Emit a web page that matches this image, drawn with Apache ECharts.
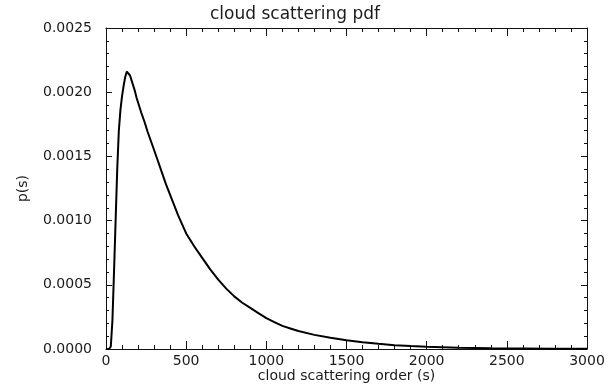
<!DOCTYPE html>
<html>
<head>
<meta charset="utf-8">
<script src="https://cdn.jsdelivr.net/npm/echarts@6/dist/echarts.min.js"></script>
<style>html,body{margin:0;padding:0;background:#fff}#c{width:610px;height:384px}</style>
</head>
<body>
<div id="c"></div>
<script>
// scattering order (s)
var orders = [0, 10, 20, 30, 40, 50, 60, 70, 80, 90, 100, 110, 120, 130, 140, 150, 160, 170, 180, 190, 200,
  220, 240, 260, 280, 300, 325, 350, 375, 400, 425, 450, 475, 500, 550, 600, 650, 700, 750, 800, 850, 900, 950,
  1000, 1050, 1100, 1150, 1200, 1300, 1400, 1500, 1600, 1700, 1800, 1900, 2000, 2200, 2400, 2600, 2800, 3000];
// probability p(s)
var probs = [0, 0, 0, 0.00002, 0.00022, 0.0006, 0.001, 0.0014, 0.0017, 0.00186, 0.00197, 0.00205, 0.00212, 0.00216, 0.00216, 0.00213, 0.00209, 0.00205, 0.00201, 0.00196, 0.00192,
  0.00184, 0.00177, 0.00169, 0.00162, 0.00155, 0.00146, 0.00137, 0.00128, 0.0012, 0.00112, 0.00104, 0.00097, 0.0009, 0.0008, 0.00071, 0.00062, 0.00054, 0.00047, 0.00041, 0.00036, 0.00032, 0.00028,
  0.00024, 0.00021, 0.00018, 0.00016, 0.00014, 0.00011, 0.000088, 0.000068, 0.000052, 0.00004, 0.00003, 0.000023, 0.000017, 0.00001, 0.000006, 0.000004, 0.000002, 0.000001];
var xTicks = [0, 500, 1000, 1500, 2000, 2500, 3000];
var yTicks = [0.0000, 0.0005, 0.0010, 0.0015, 0.0020, 0.0025];

var seriesData = orders.map(function (s, i) { return [s, probs[i]]; });
var txt = '#1a1a1a';
var font = 'DejaVu Sans';
var chart = echarts.init(document.getElementById('c'), null, {renderer: 'canvas'});
var lineStyle = {color: '#111', width: 1};
function xAxisCfg(pos, labels) {
  return {
    type: 'value', position: pos, min: xTicks[0], max: xTicks[xTicks.length - 1], interval: 500,
    axisLine: {show: true, onZero: false, lineStyle: lineStyle},
    axisTick: {show: true, inside: true, length: 8, lineStyle: lineStyle},
    minorTick: {show: true, splitNumber: 5, length: 4, lineStyle: lineStyle},
    axisLabel: labels ? {fontFamily: font, fontSize: 14, color: txt, margin: 5,
      formatter: function (v) { return String(v); }} : {show: false},
    splitLine: {show: false}
  };
}
function yAxisCfg(pos, labels) {
  return {
    type: 'value', position: pos, min: yTicks[0], max: yTicks[yTicks.length - 1], interval: 0.0005,
    axisLine: {show: true, onZero: false, lineStyle: lineStyle},
    axisTick: {show: true, inside: true, length: 6, lineStyle: lineStyle},
    minorTick: {show: true, splitNumber: 5, length: 3, lineStyle: lineStyle},
    axisLabel: labels ? {fontFamily: font, fontSize: 14, color: txt, margin: 14,
      formatter: function (v) { return v.toFixed(4); }} : {show: false},
    splitLine: {show: false}
  };
}
var xb = xAxisCfg('bottom', true);
xb.name = 'cloud scattering order (s)';
xb.nameLocation = 'middle';
xb.nameGap = 20;
xb.nameMoveOverlap = false;
xb.nameTextStyle = {fontFamily: font, fontSize: 14, color: txt};
var yl = yAxisCfg('left', true);
yl.name = 'p(s)';
yl.nameLocation = 'middle';
yl.nameGap = 76;
yl.nameRotate = 90;
yl.nameMoveOverlap = false;
yl.nameTextStyle = {fontFamily: font, fontSize: 14, color: txt};
chart.setOption({
  animation: false,
  backgroundColor: '#fff',
  title: {
    text: 'cloud scattering pdf',
    left: 205, top: 1,
    textStyle: {fontFamily: font, fontSize: 17, fontWeight: 'normal', color: txt}
  },
  grid: {left: 106, right: 23, top: 28, bottom: 35, outerBoundsMode: 'none', containLabel: false},
  xAxis: [xb, xAxisCfg('top', false)],
  yAxis: [yl, yAxisCfg('right', false)],
  series: [{
    type: 'line', data: seriesData, xAxisIndex: 0, yAxisIndex: 0,
    showSymbol: false, smooth: false,
    lineStyle: {color: '#000', width: 2}
  }]
});
</script>
</body>
</html>
